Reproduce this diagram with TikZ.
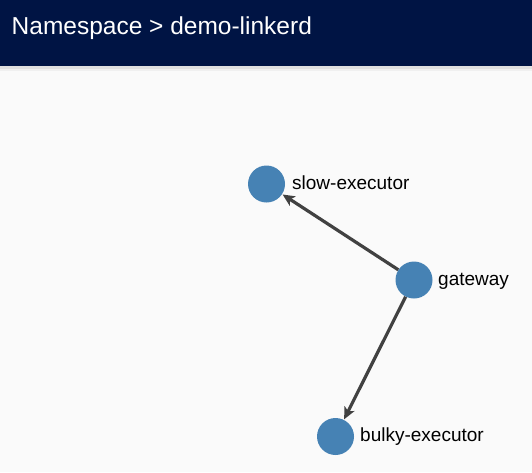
\documentclass[tikz,border=0pt]{standalone}
\usepackage{fontspec}
\setmainfont{Liberation Sans}
\usetikzlibrary{arrows.meta}
\definecolor{navy}{HTML}{001444}
\definecolor{bgc}{HTML}{FAFAFA}
\definecolor{steel}{HTML}{4682B4}
\definecolor{edgec}{HTML}{414141}
\tikzset{
  svc/.style={circle,fill=steel,minimum size=37pt,inner sep=0pt},
  lbl/.style={anchor=base west,inner sep=0pt,font=\fontsize{19pt}{21pt}\selectfont,text=black},
  link/.style={draw=edgec,line width=3.2pt,-{Stealth[length=12pt,width=11pt,inset=3pt]},shorten >=0.5pt},
}
\begin{document}
\begin{tikzpicture}[x=1pt,y=-1pt]
\fill[bgc] (0,0) rectangle (532,472);
\useasboundingbox (0,0) rectangle (532,472);
\fill[black!12] (0,66) rectangle (532,69);
\fill[black!6] (0,69) rectangle (532,71);
\fill[navy] (0,0) rectangle (532,66);
\node[anchor=base west,inner sep=0pt,text=white,font=\fontsize{24.5pt}{28pt}\selectfont] (title) at (11.5,34.3) {Namespace > demo-linkerd};
\node[svc] (gw) at (414,280) {};
\node[svc] (slow) at (266.5,184) {};
\node[svc] (bulky) at (335.5,436.5) {};
\draw[link] (gw) -- (slow);
\draw[link] (gw) -- (bulky);
\node[lbl] (gwl) at (438,285.3) {gateway};
\node[lbl] (slowl) at (292,189.5) {slow-executor};
\node[lbl] (bulkyl) at (360,441.8) {bulky-executor};
\end{tikzpicture}
\end{document}
